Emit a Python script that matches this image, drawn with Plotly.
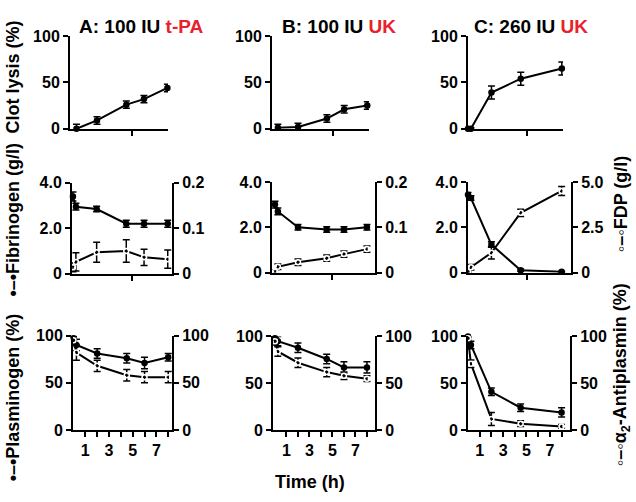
import plotly.graph_objects as go

W, H = 636, 502

# ---------------- data ----------------
t_lysis_AB = [0.25, 2, 4.5, 6, 8]
t_AB = [0, 0.25, 2, 4.5, 6, 8]
t_C = [0, 0.25, 2, 4.5, 8]

lysis_A = [0, 9, 26, 32, 44]
lysis_A_err = [5, 4, 4, 4, 4]
lysis_B = [1, 2, 11, 21, 25]
lysis_B_err = [4, 4, 4, 4, 4]
lysis_C = [0, 0, 39, 54, 65]
lysis_C_err = [1, 1, 7, 7, 7]

fib_A = [3.4, 2.95, 2.85, 2.2, 2.2, 2.2]
fib_A_err = [0.2, 0.15, 0.12, 0.15, 0.15, 0.15]
fdp_A = [0.014, 0.026, 0.047, 0.05, 0.036, 0.032]
fdp_A_err = [0.01, 0.02, 0.022, 0.025, 0.018, 0.02]

fib_B = [3.0, 2.7, 2.0, 1.9, 1.9, 2.0]
fib_B_err = [0.15, 0.15, 0.12, 0.12, 0.12, 0.12]
fdp_B = [0.002, 0.013, 0.023, 0.032, 0.041, 0.052]
fdp_B_err = [0.004, 0.006, 0.007, 0.007, 0.007, 0.007]

fib_C = [3.43, 3.29, 1.24, 0.11, 0.04]
fib_C_err = [0.1, 0.1, 0.12, 0.05, 0.03]
fdp_C = [0.05, 0.3, 1.1, 3.3, 4.5]
fdp_C_err = [0.05, 0.15, 0.35, 0.2, 0.25]

plg_A = [97, 90, 81, 76, 71, 77]
plg_A_err = [6, 6, 5, 5, 6, 4]
ap_A = [95, 82, 68, 58, 56, 56]
ap_A_err = [4, 8, 6, 6, 6, 6]

plg_B = [98, 95, 88, 76, 67, 67]
plg_B_err = [5, 5, 5, 5, 6, 6]
ap_B = [95, 84, 72, 62, 58, 55]
ap_B_err = [4, 5, 5, 5, 4, 3]

plg_C = [100, 91, 41, 24, 19]
plg_C_err = [1, 4, 4, 4, 5]
ap_C = [98, 71, 12, 7, 4]
ap_C_err = [2, 4, 7, 3, 2]

titles = ["A: 100 IU ", "B: 100 IU ", "C: 260 IU "]
agents = ["t-PA", "UK", "UK"]
x_tick_labels = ["1", "3", "5", "7"]

# ---------------- layout geometry (pixels) ----------------
# [row][col] -> (x0, x1, y_bottom, y_top, xr0, xr1)
geo = [
    [(70, 168, 125, 29, -0.30, 8.05), (272, 369, 125, 29, -0.26, 8.15), (468, 563, 125, 29, 0, 8.1)],
    [(72, 172, 275, 181, -0.08, 8.36), (272, 375, 274, 180, -0.26, 8.7), (468, 571, 274, 180, 0, 8.8)],
    [(73, 172, 437, 339, -0.04, 8.32), (273, 375, 437, 340, -0.17, 8.7), (468, 570, 437, 340, 0, 8.72)],
]

FONT = "Arial, Liberation Sans, sans-serif"
RED = "#e8212e"

fig = go.Figure()
layout = dict(
    width=W, height=H, margin=dict(l=0, r=0, t=0, b=0),
    paper_bgcolor="white", plot_bgcolor="white", showlegend=False,
    font=dict(family=FONT, color="black"),
)

def px_x(p):
    return p / W

def px_y(p):
    return 1 - p / H

axis_common = dict(showline=True, linecolor="black", linewidth=2, ticks="outside",
                   ticklen=5, tickwidth=2, tickcolor="black", showgrid=False,
                   zeroline=False, tickfont=dict(family=FONT, size=16, color="black", weight="bold"))

left_ticks = [
    ([0, 50, 100], ["0", "50", "100"], [0, 100]),
    ([0, 2, 4], ["0", "2.0", "4.0"], [0, 4]),
    ([0, 50, 100], ["0", "50", "100"], [0, 100]),
]
right_ticks_mid = [
    ([0, 0.1, 0.2], ["0", "0.1", "0.2"], [0, 0.2]),
    ([0, 0.1, 0.2], ["0", "0.1", "0.2"], [0, 0.2]),
    ([0, 2.5, 5], ["0", "2.5", "5.0"], [0, 5]),
]
right_ticks_bot = ([0, 50, 100], ["0", "50", "100"], [0, 100])

right_id = 10
right_map = {}
for r in range(3):
    for c in range(3):
        n = r * 3 + c + 1
        x0, x1, yb, yt, xr0, xr1 = geo[r][c]
        xd = [px_x(x0), px_x(x1)]
        yd = [px_y(yb), px_y(yt)]
        xa = dict(axis_common, domain=xd, range=[xr0, xr1], anchor=f"y{n}")
        if r == 2:
            xa.update(tickvals=[1, 3, 5, 7], ticktext=x_tick_labels,
                      minor=dict(tickvals=[2, 4, 6, 8], ticks="outside", ticklen=5,
                                 tickwidth=2, tickcolor="black", showgrid=False))
        else:
            xa.update(tickvals=[5], showticklabels=False)
        tv, tt, rg = left_ticks[r]
        ya = dict(axis_common, domain=yd, range=rg, anchor=f"x{n}",
                  tickvals=tv, ticktext=tt)
        layout[f"xaxis{n}"] = xa
        layout[f"yaxis{n}"] = ya
        if r >= 1:
            if r == 1:
                tv2, tt2, rg2 = right_ticks_mid[c]
            else:
                tv2, tt2, rg2 = right_ticks_bot
            ya2 = dict(axis_common, range=rg2, anchor=f"x{n}", overlaying=f"y{n}",
                       side="right", tickvals=tv2, ticktext=tt2)
            layout[f"yaxis{right_id}"] = ya2
            right_map[(r, c)] = right_id
            right_id += 1

def add(x, y, err, n, yid=None, filled=True):
    fig.add_trace(go.Scatter(
        x=x, y=y, mode="lines+markers",
        xaxis=f"x{n}", yaxis=f"y{yid if yid else n}",
        line=dict(color="black", width=2),
        marker=dict(symbol="circle" if filled else "circle-open", size=5,
                    color="black" if filled else "white",
                    line=dict(color="black", width=1.5)),
        error_y=dict(type="data", array=err, color="black", thickness=1.5, width=3.5),
        cliponaxis=False,
    ))

# top row: clot lysis
add(t_lysis_AB, lysis_A, lysis_A_err, 1)
add(t_lysis_AB, lysis_B, lysis_B_err, 2)
add(t_C, lysis_C, lysis_C_err, 3)

# middle row: fibrinogen (left) & FDP (right)
add(t_AB, fib_A, fib_A_err, 4)
add(t_AB, fdp_A, fdp_A_err, 4, right_map[(1, 0)], filled=False)
add(t_AB, fib_B, fib_B_err, 5)
add(t_AB, fdp_B, fdp_B_err, 5, right_map[(1, 1)], filled=False)
add(t_C, fib_C, fib_C_err, 6)
add(t_C, fdp_C, fdp_C_err, 6, right_map[(1, 2)], filled=False)

# bottom row: plasminogen (left) & antiplasmin (right)
add(t_AB, plg_A, plg_A_err, 7)
add(t_AB, ap_A, ap_A_err, 7, right_map[(2, 0)], filled=False)
add(t_AB, plg_B, plg_B_err, 8)
add(t_AB, ap_B, ap_B_err, 8, right_map[(2, 1)], filled=False)
add(t_C, plg_C, plg_C_err, 9)
add(t_C, ap_C, ap_C_err, 9, right_map[(2, 2)], filled=False)

ann = []
title_cx = [141, 339, 531]
for c in range(3):
    ann.append(dict(
        text=f"{titles[c]}<span style='color:{RED}'>{agents[c]}</span>",
        x=px_x(title_cx[c]), y=px_y(19), xref="paper", yref="paper",
        xanchor="center", yanchor="middle", showarrow=False,
        font=dict(family=FONT, size=19, color="black", weight="bold")))

lab_font = dict(family=FONT, size=18, color="black", weight="bold")
side_labels = [
    ("Clot lysis (%)", 13, 72),
    ("•–•Fibrinogen (g/l)", 13, 219),
    ("•–•Plasminogen (%)", 13, 403),
    ("◦–◦FDP (g/l)", 621, 203),
    ("◦–◦α<sub>2</sub>-Antiplasmin (%)", 621, 380),
]
for txt, xx, yy in side_labels:
    ann.append(dict(text=txt, x=px_x(xx), y=px_y(yy), xref="paper", yref="paper",
                    xanchor="center", yanchor="middle", textangle=-90,
                    showarrow=False, font=lab_font))

ann.append(dict(text="Time (h)", x=px_x(310), y=px_y(491), xref="paper", yref="paper",
                xanchor="center", yanchor="middle", showarrow=False, font=lab_font))

layout["annotations"] = ann
fig.update_layout(**layout)
fig.write_html("out.html")
